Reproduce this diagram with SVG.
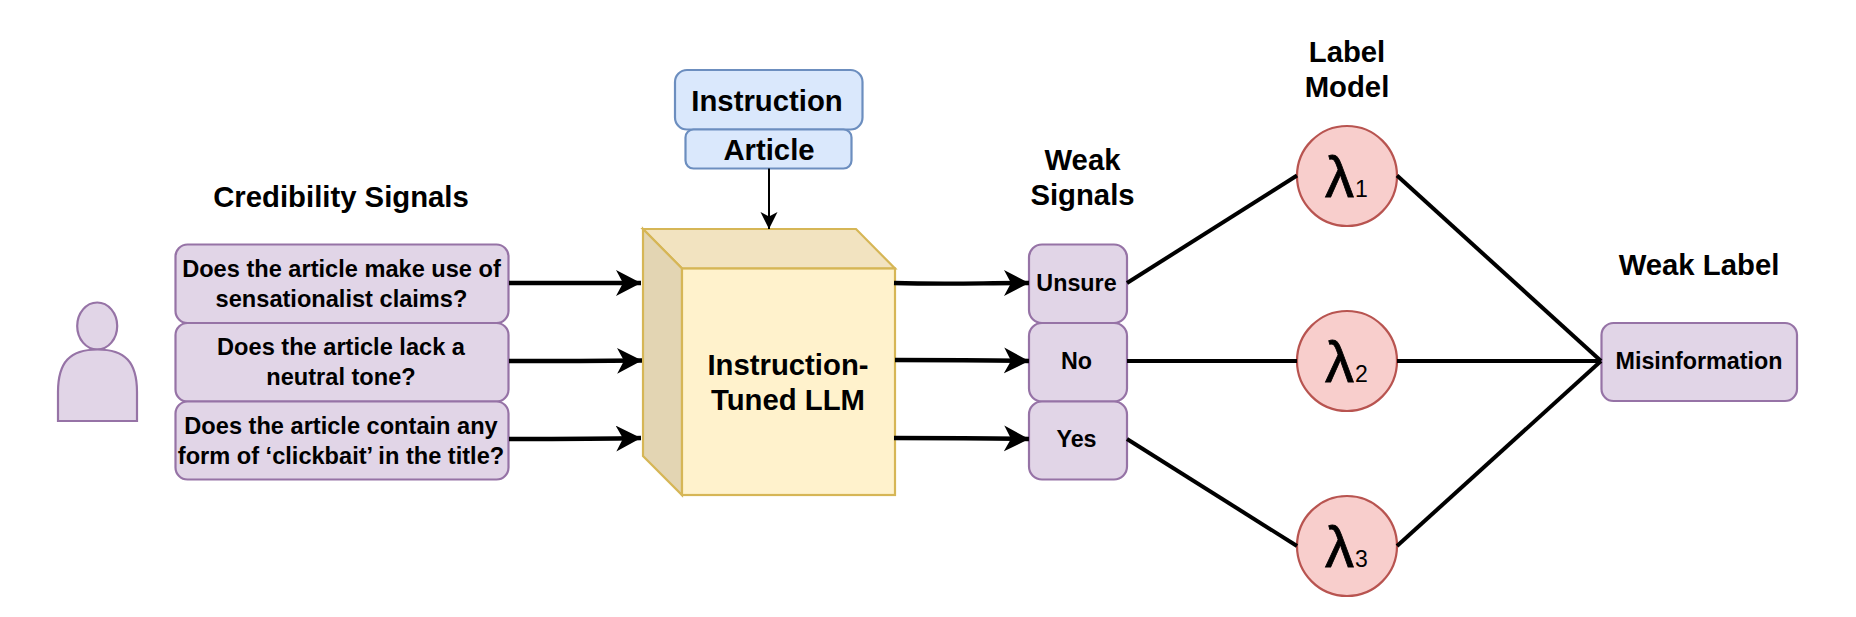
<svg xmlns="http://www.w3.org/2000/svg" width="1856" height="617" viewBox="0 0 1856 617">
<style>
text{font-family:"Liberation Sans",Arial,sans-serif;font-weight:700;fill:#000;text-anchor:middle}
.h{font-size:29.300px}
.b{font-size:23.600px}
.w{font-size:23.300px}
.p{fill:#e1d5e7;stroke:#9673a6;stroke-width:2.200}
.bl{fill:#dae8fc;stroke:#6c8ebf;stroke-width:2.200}
.y{stroke:#d6b656;stroke-width:2.200;stroke-linejoin:miter}
.r{fill:#f8cecc;stroke:#b85450;stroke-width:2.200}
.l{font-weight:400;font-size:58px;text-anchor:start;stroke:#000;stroke-width:.8}
.s{font-size:23px;font-weight:400;stroke:none}
.c{fill:none;stroke:#000;stroke-width:4}
.a{stroke-width:4.400;marker-end:url(#big)}
</style>
<defs>
<marker id="big" markerUnits="userSpaceOnUse" markerWidth="30" markerHeight="30" refX="25" refY="13" orient="auto"><path d="M0,0L25,13L0,26L7,13Z" fill="#000"/></marker>
<marker id="small" markerUnits="userSpaceOnUse" markerWidth="20" markerHeight="20" refX="17" refY="8.500" orient="auto"><path d="M0,0L17,8.500L0,17L4.500,8.500Z" fill="#000"/></marker>
</defs>
<rect width="1856" height="617" fill="#fff"/>
<g id="person">
<ellipse class="p" cx="97.200" cy="326" rx="20" ry="23.500"/>
<path class="p" d="M58,421V392C58,362 70,349.500 97.500,349.500C125,349.500 137,362 137,392V421Z"/>
</g>
<text class="h" x="341" y="207">Credibility Signals</text>
<g id="q1"><rect class="p" x="175.500" y="244.500" width="333" height="78.500" rx="12"/>
<text class="b" x="341.500" y="277">Does the article make use of</text><text class="b" x="341.500" y="307">sensationalist claims?</text></g>
<g id="q2"><rect class="p" x="175.500" y="323" width="333" height="78.500" rx="12"/>
<text class="b" x="341" y="355">Does the article lack a</text><text class="b" x="341" y="385">neutral tone?</text></g>
<g id="q3"><rect class="p" x="175.500" y="401.500" width="333" height="78" rx="12"/>
<text class="b" x="341" y="434">Does the article contain any</text><text class="b" x="341" y="464">form of ‘clickbait’ in the title?</text></g>
<g id="instruction"><rect class="bl" x="675" y="70" width="187.500" height="59.500" rx="12"/>
<text class="h" x="767" y="110.500">Instruction</text></g>
<g id="article"><rect class="bl" x="685.500" y="129.500" width="166" height="39" rx="8"/>
<text class="h" x="769" y="159.500">Article</text></g>
<g id="llm">
<path class="y" fill="#f2e3c0" d="M643,229H856L895,268.500H682Z"/>
<path class="y" fill="#e3d5b3" d="M643,229L682,268.500V495L643,456Z"/>
<rect class="y" fill="#fff2cc" x="682" y="268.500" width="213" height="226.500"/>
<text class="h" x="788" y="375">Instruction-</text><text class="h" x="788" y="410">Tuned LLM</text>
</g>
<text class="h" x="1082.500" y="169.500">Weak</text><text class="h" x="1082.500" y="204.500">Signals</text>
<g id="unsure"><rect class="p" x="1029" y="244.500" width="98" height="78.500" rx="13"/><text class="w" x="1076.500" y="291">Unsure</text></g>
<g id="no"><rect class="p" x="1029" y="323" width="98" height="78.500" rx="13"/><text class="w" x="1076.500" y="369">No</text></g>
<g id="yes"><rect class="p" x="1029" y="401.500" width="98" height="78" rx="13"/><text class="w" x="1076.500" y="447">Yes</text></g>
<text class="h" x="1347" y="61.500">Label</text><text class="h" x="1347" y="97">Model</text>
<g id="l1"><circle class="r" cx="1347" cy="176" r="50"/><text class="l" x="1325" y="196.500">λ<tspan class="s" dx="1">1</tspan></text></g>
<g id="l2"><circle class="r" cx="1347" cy="361" r="50"/><text class="l" x="1325" y="381.500">λ<tspan class="s" dx="1">2</tspan></text></g>
<g id="l3"><circle class="r" cx="1347" cy="546" r="50"/><text class="l" x="1325" y="566.500">λ<tspan class="s" dx="1">3</tspan></text></g>
<text class="h" x="1699" y="275">Weak Label</text>
<g id="misinformation"><rect class="p" x="1601.500" y="323" width="195.500" height="78" rx="12"/><text class="w" x="1699" y="369">Misinformation</text></g>
<g id="connectors">
<path class="c a" d="M509,283L641,283"/>
<path class="c a" d="M509,361C550,361 600,361 642,360.500"/>
<path class="c a" d="M509,439C550,439 600,439 641,438"/>
<path class="c a" d="M894,283C950,284.500 980,283 1029,283"/>
<path class="c a" d="M895,360C950,360 980,360 1029,361"/>
<path class="c a" d="M894,438C950,438 980,438 1029,439"/>
<path fill="none" stroke="#000" stroke-width="2" marker-end="url(#small)" d="M769,168.500L769,229"/>
<path class="c" d="M1127,283L1297,175.500"/>
<path class="c" d="M1397,175.500L1601,361"/>
<path class="c" d="M1127,361L1297,361"/>
<path class="c" d="M1397,361L1601,361"/>
<path class="c" d="M1127,439L1297,546"/>
<path class="c" d="M1397,546L1601,361"/>
</g>
</svg>
